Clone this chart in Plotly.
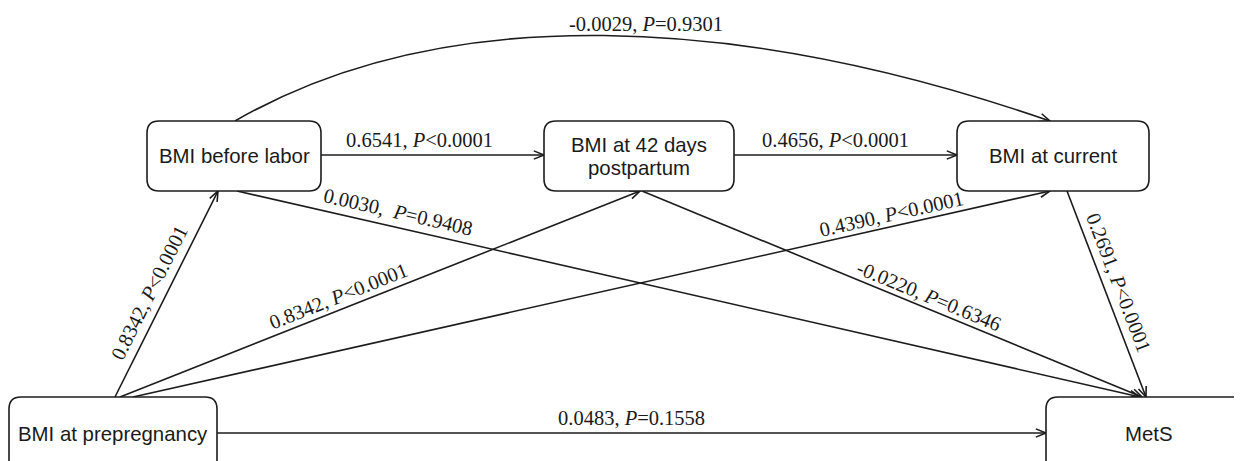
import math
import plotly.graph_objects as go

# ---------------- data ----------------
node_ids = ["prepreg", "before", "d42", "current", "mets"]
node_labels = ["BMI at prepregnancy", "BMI before labor", "BMI at 42 days<br>postpartum",
               "BMI at current", "MetS"]

edge_from = ["prepreg", "prepreg", "prepreg", "prepreg", "before", "before", "before", "d42", "d42", "current"]
edge_to = ["before", "d42", "current", "mets", "d42", "current", "mets", "current", "mets", "mets"]
coefs = ["0.8342", "0.8342", "0.4390", "0.0483", "0.6541", "-0.0029", "0.0030", "0.4656", "-0.0220", "0.2691"]
p_ops = ["<", "<", "<", "=", "<", "=", "=", "<", "=", "<"]
p_vals = ["0.0001", "0.0001", "0.0001", "0.1558", "0.0001", "0.9301", "0.9408", "0.0001", "0.6346", "0.0001"]
sep = [" ", " ", " ", " ", " ", " ", "\u00a0 ", " ", " ", " "]

# ---------------- layout (pixel geometry, page coordinates) ----------------
W, H = 1242, 461
PAGE_OFF = 8  # default body margin of the html page
BOX = {
    "prepreg": (9, 397, 217, 472),
    "before": (147, 121, 321, 191),
    "d42": (544, 121, 734, 191),
    "current": (957, 121, 1149, 191),
    "mets": (1046, 397, 1252, 472),
}
ANCH = [
    (("top", 106), ("bottom", 71)),
    (("top", 111), ("bottom", 96)),
    (("top", 124), ("bottom", 93)),
    (("right", 36), ("left", 36)),
    (("right", 34), ("left", 34)),
    (("top", 88), ("top", 93)),
    (("bottom", 90), ("top", 94)),
    (("right", 34), ("left", 34)),
    (("bottom", 98), ("top", 96)),
    (("bottom", 110), ("top", 100)),
]
CURVED = 5
CURVE_CTRL = ((443, 1), (738, 13))
LABEL_POS = [(0.47, 16), (0.43, 13), (0.83, 12), (0.50, 15), (0.44, 15),
             (0.55, 13), (0.175, 15), (0.457, 15), (0.565, 12), (0.47, 15)]
TEXT_Y = {"prepreg": 434, "mets": 434}
LINE_GAP = 23

LINE_COL = "#1c1c1c"
LW = 1.6
HEAD_LEN = 11
HEAD_ANG = math.radians(22)
SERIF = "Liberation Serif, Times New Roman, serif"
SANS = "Liberation Sans, Arial, sans-serif"


def anchor(name, side, off):
    x0, y0, x1, y1 = BOX[name]
    if side == "top":
        return (x0 + off, y0)
    if side == "bottom":
        return (x0 + off, y1)
    if side == "left":
        return (x0, y0 + off)
    return (x1, y0 + off)


def rrect(x0, y0, x1, y1, r=12):
    return (f"M{x0+r},{y0} L{x1-r},{y0} Q{x1},{y0} {x1},{y0+r} "
            f"L{x1},{y1-r} Q{x1},{y1} {x1-r},{y1} L{x0+r},{y1} "
            f"Q{x0},{y1} {x0},{y1-r} L{x0},{y0+r} Q{x0},{y0} {x0+r},{y0} Z")


def bez(p0, p1, p2, p3, t):
    m = 1 - t
    return (m**3 * p0[0] + 3 * m * m * t * p1[0] + 3 * m * t * t * p2[0] + t**3 * p3[0],
            m**3 * p0[1] + 3 * m * m * t * p1[1] + 3 * m * t * t * p2[1] + t**3 * p3[1])


shapes = []
annotations = []

# edges
for i in range(len(edge_from)):
    (s_side, s_off), (e_side, e_off) = ANCH[i]
    p0 = anchor(edge_from[i], s_side, s_off)
    p3 = anchor(edge_to[i], e_side, e_off)
    if i == CURVED:
        p1, p2 = CURVE_CTRL
        shapes.append(dict(type="path", xref="x", yref="y",
                           path=f"M{p0[0]},{p0[1]} C{p1[0]},{p1[1]} {p2[0]},{p2[1]} {p3[0]},{p3[1]}",
                           line=dict(color=LINE_COL, width=LW)))
        dx, dy = p3[0] - p2[0], p3[1] - p2[1]
    else:
        shapes.append(dict(type="line", xref="x", yref="y", x0=p0[0], y0=p0[1], x1=p3[0], y1=p3[1],
                           line=dict(color=LINE_COL, width=LW)))
        dx, dy = p3[0] - p0[0], p3[1] - p0[1]
    ang = math.atan2(dy, dx)
    a1 = ang + math.pi - HEAD_ANG
    a2 = ang + math.pi + HEAD_ANG
    hx1, hy1 = p3[0] + HEAD_LEN * math.cos(a1), p3[1] + HEAD_LEN * math.sin(a1)
    hx2, hy2 = p3[0] + HEAD_LEN * math.cos(a2), p3[1] + HEAD_LEN * math.sin(a2)
    shapes.append(dict(type="path", xref="x", yref="y",
                       path=f"M{hx1:.2f},{hy1:.2f} L{p3[0]},{p3[1]} L{hx2:.2f},{hy2:.2f}",
                       line=dict(color=LINE_COL, width=LW)))

    # label
    t, off = LABEL_POS[i]
    if i == CURVED:
        px, py = bez(p0, CURVE_CTRL[0], CURVE_CTRL[1], p3, t)
        tang = 0.0
    else:
        px, py = p0[0] + t * dx, p0[1] + t * dy
        tang = ang
    nx, ny = math.sin(tang), -math.cos(tang)
    lx, ly = px + off * nx, py + off * ny
    op = "&lt;" if p_ops[i] == "<" else "="
    txt = f"{coefs[i]},{sep[i]}<i>P</i>{op}{p_vals[i]}"
    deg = math.degrees(tang)
    annotations.append(dict(x=lx, y=ly, xref="x", yref="y", text=txt, showarrow=False,
                            xanchor="center", yanchor="middle",
                            textangle=deg if abs(deg) > 0.5 else 0,
                            font=dict(family=SERIF, size=20.5, color="#1a1a1a")))

# nodes
for nid, lab in zip(node_ids, node_labels):
    x0, y0, x1, y1 = BOX[nid]
    shapes.append(dict(type="path", xref="x", yref="y", path=rrect(x0, y0, x1, y1),
                       line=dict(color=LINE_COL, width=LW), fillcolor="white"))
    cy = TEXT_Y.get(nid, (y0 + y1) / 2)
    lines = lab.split("<br>")
    n = len(lines)
    for k, ln in enumerate(lines):
        annotations.append(dict(x=(x0 + x1) / 2, y=cy + (k - (n - 1) / 2) * LINE_GAP,
                                xref="x", yref="y", text=ln, showarrow=False,
                                xanchor="center", yanchor="middle",
                                font=dict(family=SANS, size=20.4, color="#1a1a1a")))

fig = go.Figure()
fig.update_layout(
    width=W - PAGE_OFF, height=H - PAGE_OFF,
    margin=dict(l=0, r=0, t=0, b=0),
    paper_bgcolor="white", plot_bgcolor="white",
    xaxis=dict(range=[PAGE_OFF, W], visible=False, fixedrange=True),
    yaxis=dict(range=[H, PAGE_OFF], visible=False, fixedrange=True),
    shapes=shapes, annotations=annotations, showlegend=False,
)
fig.write_html("out.html")
